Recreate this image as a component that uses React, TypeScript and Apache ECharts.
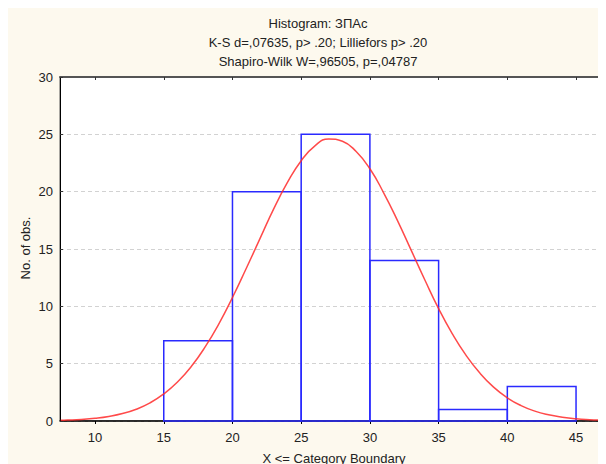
import React, { useEffect, useRef } from "react";
import * as echarts from "echarts";

const titleLines = [
  "Histogram: ЗПАс",
  "K-S d=,07635, p> .20; Lilliefors p> .20",
  "Shapiro-Wilk W=,96505, p=,04787",
];
const binStarts = [15, 20, 25, 30, 35, 40];
const binEnds = [20, 25, 30, 35, 40, 45];
const counts = [7, 20, 25, 14, 1, 3];
const curveX = [
  7.5, 8, 9, 10, 11, 12, 13, 14, 15, 16, 17, 18, 19, 20, 21, 22, 23, 24, 25, 26, 27,
  28, 29, 30, 31, 32, 33, 34, 35, 36, 37, 38, 39, 40, 41, 42, 43, 44, 45, 46, 47,
];
const curveY = [
  0.06, 0.08, 0.14, 0.24, 0.4, 0.65, 1.03, 1.58, 2.36, 3.4, 4.75, 6.44, 8.45, 10.77,
  13.3, 15.9, 18.5, 20.8, 22.7, 24.0, 24.6, 24.4, 23.5, 22.0, 19.9, 17.5, 14.9, 12.3,
  9.8, 7.6, 5.72, 4.18, 2.95, 2.02, 1.34, 0.86, 0.54, 0.33, 0.19, 0.11, 0.06,
];
const xTicks = [10, 15, 20, 25, 30, 35, 40, 45];
const yTicks = [0, 5, 10, 15, 20, 25, 30];
const xName = "X <= Category Boundary";
const yName = "No. of obs.";

const FONT = "'Liberation Sans', Arial, sans-serif";

export default function App() {
  const ref = useRef<HTMLDivElement>(null);
  useEffect(() => {
    if (!ref.current) return;
    const chart = echarts.init(ref.current, undefined, { renderer: "svg" });
    const bins = binStarts.map((s, i) => [s, binEnds[i], counts[i]]);
    const curve = curveX.map((x, i) => [x, curveY[i]]);
    chart.setOption({
      animation: false,
      backgroundColor: "#fdf9ee",
      grid: {
        left: 52,
        right: 0,
        top: 69,
        bottom: 43,
        show: true,
        backgroundColor: "#ffffff",
        borderColor: "#555555",
        borderWidth: 1,
      },
      xAxis: [
        {
          type: "value",
          min: 7.45,
          max: 47.18,
          axisLine: { show: true, onZero: false, lineStyle: { color: "#000", width: 1.5 } },
          axisTick: { show: true, inside: false, length: 3, customValues: xTicks, lineStyle: { color: "#000" } },
          axisLabel: {
            customValues: xTicks,
            color: "#222",
            fontFamily: FONT,
            fontSize: 13,
            margin: 10,
          },
          splitLine: { show: false },
        },
        {
          type: "value",
          position: "top",
          min: 7.45,
          max: 47.18,
          axisLine: { show: true, onZero: false, lineStyle: { color: "#555", width: 2 } },
          axisTick: { show: true, inside: true, length: 3, customValues: xTicks, lineStyle: { color: "#333" } },
          axisLabel: { show: false },
          splitLine: { show: false },
        },
      ],
      yAxis: {
        type: "value",
        min: 0,
        max: 30,
        interval: 5,
        axisLine: { show: true, onZero: false, lineStyle: { color: "#000", width: 1 } },
        axisTick: { show: true, inside: true, length: 3, lineStyle: { color: "#333" } },
        axisLabel: {
          color: "#222",
          fontFamily: FONT,
          fontSize: 13,
          margin: 7,
          customValues: yTicks,
        },
        splitLine: { show: true, lineStyle: { color: "#d2d2d2", type: [4, 3], width: 1 } },
      },
      series: [
        {
          type: "custom",
          xAxisIndex: 0,
          data: bins,
          encode: { x: [0, 1], y: 2 },
          renderItem: (params: any, api: any) => {
            const lo = api.value(0);
            const hi = api.value(1);
            const c = api.value(2);
            const p0 = api.coord([lo, c]);
            const p1 = api.coord([hi, 0]);
            return {
              type: "rect",
              shape: { x: p0[0], y: p0[1], width: p1[0] - p0[0], height: p1[1] - p0[1] },
              style: { fill: "none", stroke: "#2a2aff", lineWidth: 1.5 },
            };
          },
          z: 2,
        },
        {
          type: "line",
          xAxisIndex: 0,
          data: curve,
          smooth: true,
          showSymbol: false,
          lineStyle: { color: "#ff2a2a", width: 1.5, opacity: 0.85 },
          z: 3,
        },
      ],
      graphic: [
        ...titleLines.map((t, i) => ({
          type: "text",
          x: 310,
          y: 15 + i * 19,
          style: {
            text: t,
            fill: "#222",
            font: `13px ${FONT}`,
            textAlign: "center",
            textVerticalAlign: "middle",
          },
        })),
        {
          type: "text",
          x: 17,
          y: 240,
          rotation: Math.PI / 2,
          style: {
            text: yName,
            fill: "#222",
            font: `13px ${FONT}`,
            textAlign: "center",
            textVerticalAlign: "middle",
          },
        },
        {
          type: "text",
          x: 326,
          y: 450,
          style: {
            text: xName,
            fill: "#222",
            font: `13px ${FONT}`,
            textAlign: "center",
            textVerticalAlign: "middle",
          },
        },
      ],
    });
    return () => chart.dispose();
  }, []);
  return <div ref={ref} style={{ width: 598, height: 456 }} />;
}
